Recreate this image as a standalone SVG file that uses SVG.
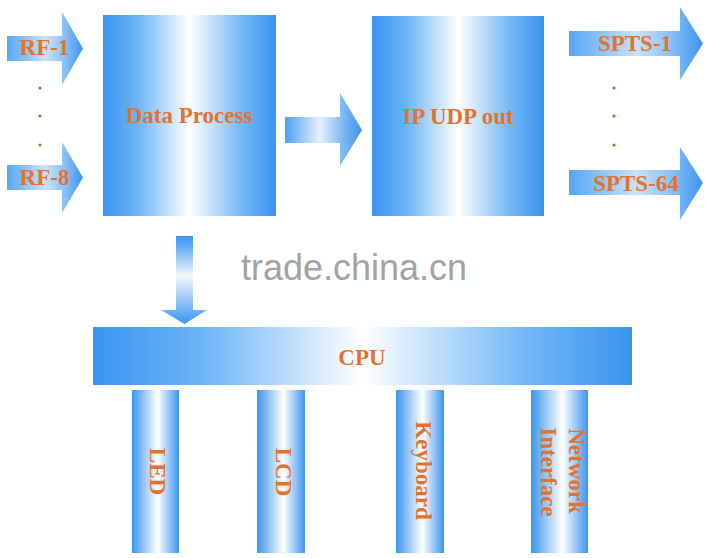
<svg xmlns="http://www.w3.org/2000/svg" width="706" height="558" viewBox="0 0 706 558">
  <defs>
    <linearGradient id="gH" x1="0" y1="0" x2="1" y2="0">
      <stop offset="0" stop-color="#3a94ef"/>
      <stop offset="0.2" stop-color="#6cb4f6"/>
      <stop offset="0.5" stop-color="#ffffff"/>
      <stop offset="0.8" stop-color="#74b8f6"/>
      <stop offset="1" stop-color="#3a94ef"/>
    </linearGradient>
    <linearGradient id="gBar" x1="0" y1="0" x2="1" y2="0">
      <stop offset="0" stop-color="#3a94ef"/>
      <stop offset="0.55" stop-color="#ffffff"/>
      <stop offset="1" stop-color="#3a94ef"/>
    </linearGradient>
    <linearGradient id="gArrow" x1="0" y1="0" x2="1" y2="0">
      <stop offset="0" stop-color="#56a6f3"/>
      <stop offset="0.5" stop-color="#c9e2fa"/>
      <stop offset="0.75" stop-color="#8cc3f7"/>
      <stop offset="1" stop-color="#3a94ef"/>
    </linearGradient>
    <linearGradient id="gMid" x1="0" y1="0" x2="1" y2="0">
      <stop offset="0" stop-color="#4a9ff2"/>
      <stop offset="0.45" stop-color="#e6f1fb"/>
      <stop offset="0.75" stop-color="#7db9f5"/>
      <stop offset="1" stop-color="#3a94ef"/>
    </linearGradient>
    <linearGradient id="gDown" x1="0" y1="0" x2="0" y2="1">
      <stop offset="0" stop-color="#3a94ef"/>
      <stop offset="0.1" stop-color="#5aa8f3"/>
      <stop offset="0.45" stop-color="#f4f8fc"/>
      <stop offset="1" stop-color="#3a94ef"/>
    </linearGradient>
    <style>
      .lbl { font-family: "Liberation Serif", "Times New Roman", serif; font-weight: bold; font-size: 23px; fill: #e4722a; text-anchor: middle; }
      .dot { fill: #c0683a; }
      .wm { font-family: "Liberation Sans", Arial, sans-serif; font-size: 36px; fill: #a3a3a3; text-anchor: middle; }
    </style>
  </defs>
  <rect width="706" height="558" fill="#ffffff"/>

  <g id="rf1">
    <polygon points="7,36 62,36 62,12 83,48.5 62,85 62,61 7,61" fill="url(#gArrow)"/>
    <text class="lbl" x="44.5" y="55">RF-1</text>
  </g>
  <g id="rf-dots">
    <circle class="dot" cx="40" cy="88" r="1.6"/>
    <circle class="dot" cx="40" cy="116" r="1.6"/>
    <circle class="dot" cx="40" cy="145" r="1.6"/>
  </g>
  <g id="rf8">
    <polygon points="7,165 62,165 62,142 83,177.5 62,213 62,190 7,190" fill="url(#gArrow)"/>
    <text class="lbl" x="44.5" y="185">RF-8</text>
  </g>

  <g id="data-process">
    <rect x="103" y="15" width="173" height="201" fill="url(#gH)"/>
    <text class="lbl" x="189" y="123">Data Process</text>
  </g>

  <g id="ip-udp-out">
    <rect x="372" y="16" width="172" height="200" fill="url(#gH)"/>
    <text class="lbl" x="458" y="124">IP UDP out</text>
  </g>

  <g id="spts1">
    <polygon points="569,31 680,31 680,7 703,43.5 680,80 680,56 569,56" fill="url(#gArrow)"/>
    <text class="lbl" x="635" y="51">SPTS-1</text>
  </g>
  <g id="spts-dots">
    <circle class="dot" cx="614" cy="88" r="1.6"/>
    <circle class="dot" cx="614" cy="116" r="1.6"/>
    <circle class="dot" cx="614" cy="145" r="1.6"/>
  </g>
  <g id="spts64">
    <polygon points="569,170 680,170 680,147 703,183 680,220 680,195 569,195" fill="url(#gArrow)"/>
    <text class="lbl" x="636" y="191">SPTS-64</text>
  </g>

  <g id="connectors">
    <polygon points="285,117 340,117 340,93 362,130 340,166 340,143 285,143" fill="url(#gMid)"/>
    <polygon points="176,236 193,236 193,310 207,310 184.5,324 161,310 176,310" fill="url(#gDown)"/>
  </g>

  <text class="wm" x="354" y="280">trade.china.cn</text>

  <g id="cpu">
    <rect x="93" y="327" width="539" height="58" fill="url(#gH)"/>
    <text class="lbl" x="362" y="365">CPU</text>
  </g>

  <g id="led">
    <rect x="132" y="390" width="47" height="163" fill="url(#gBar)"/>
    <text class="lbl" transform="translate(150,471.5) rotate(90)" x="0" y="0">LED</text>
  </g>
  <g id="lcd">
    <rect x="257" y="390" width="48" height="163" fill="url(#gBar)"/>
    <text class="lbl" transform="translate(276,472) rotate(90)" x="0" y="0">LCD</text>
  </g>
  <g id="keyboard">
    <rect x="396" y="390" width="48" height="163" fill="url(#gBar)"/>
    <text class="lbl" transform="translate(416,470.5) rotate(90)" x="0" y="0">Keyboard</text>
  </g>
  <g id="network-interface">
    <rect x="531" y="390" width="57" height="163" fill="url(#gBar)"/>
    <text class="lbl" transform="translate(569,471) rotate(90)" x="0" y="0">Network</text>
    <text class="lbl" transform="translate(541,472) rotate(90)" x="0" y="0">Interface</text>
  </g>
</svg>
